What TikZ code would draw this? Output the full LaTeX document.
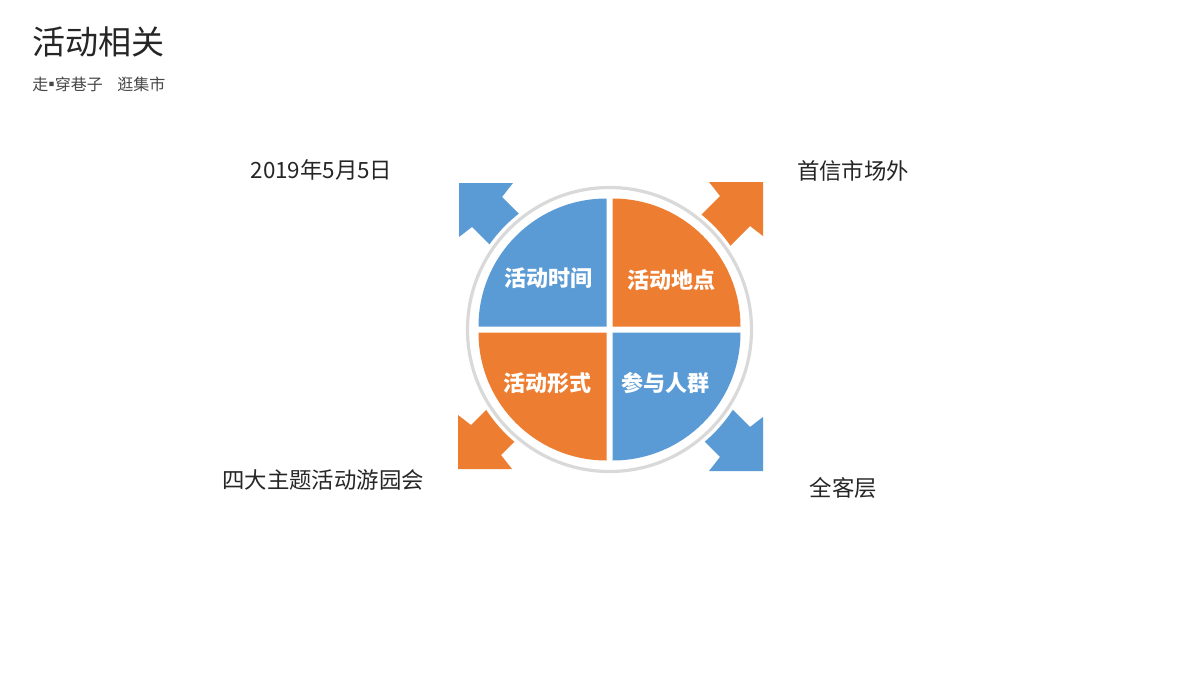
\documentclass[tikz,border=0pt]{standalone}
\usepackage{fontspec}
\setmainfont{Noto Sans CJK SC}
\definecolor{qblue}{HTML}{5B9BD5}
\definecolor{qorange}{HTML}{ED7D31}
\definecolor{ringgray}{HTML}{D9D9D9}
\definecolor{txt}{HTML}{262626}
\tikzset{
  bigarrow/.style={fill=#1, draw=none},
  quad/.style={fill=#1, draw=none},
  qlabel/.style={text=white, font=\fontsize{16.5}{18}\selectfont\bfseries, inner sep=0pt},
  slabel/.style={text=txt, font=\fontsize{16.8}{19}\selectfont, inner sep=0pt},
}
\begin{document}
\begin{tikzpicture}[x=0.75pt,y=-0.75pt]
\useasboundingbox (0,0) rectangle (1200,675);
\fill[white] (0,0) rectangle (1200,675);
% title
\node[anchor=west, text=txt, font=\fontsize{24.8}{28}\selectfont, inner sep=0pt] (title) at (32,42) {活动相关};
\node[anchor=west, text=txt!85, font=\fontsize{12}{14}\selectfont, inner sep=0pt] (subtitle) at (32,84) {走\kern-3.5pt▪\kern-3.5pt穿巷子\hspace{0.9em}逛集市};
% corner arrows
\def\arrowshape{(0,0) -- (54,0) -- (43,14) -- (95,66) -- (65,96) -- (13,44) -- (0,54) -- cycle}
\begin{scope}[shift={(459,183)}]
  \fill[bigarrow=qblue] \arrowshape;
\end{scope}
\begin{scope}[shift={(763,182)}, xscale=-1]
  \fill[bigarrow=qorange] \arrowshape;
\end{scope}
\begin{scope}[shift={(458,469)}, yscale=-1]
  \fill[bigarrow=qorange] \arrowshape;
\end{scope}
\begin{scope}[shift={(763,471)}, xscale=-1, yscale=-1]
  \fill[bigarrow=qblue] \arrowshape;
\end{scope}
% circle
\coordinate (c) at (609.5,329.5);
\fill[white] (c) circle[radius=147];
\draw[ringgray, line width=2.4pt] (c) circle[radius=142];
% quadrants
\fill[quad=qblue] ([shift={(-3,-3)}]c) -- ++(-128,0) arc[start angle=180, end angle=270, radius=128] -- cycle;
\fill[quad=qorange] ([shift={(3,-3)}]c) -- ++(128,0) arc[start angle=0, end angle=-90, radius=128] -- cycle;
\fill[quad=qorange] ([shift={(-3,3)}]c) -- ++(-128,0) arc[start angle=180, end angle=90, radius=128] -- cycle;
\fill[quad=qblue] ([shift={(3,3)}]c) -- ++(128,0) arc[start angle=0, end angle=90, radius=128] -- cycle;
% quadrant labels
\node[qlabel] (q1) at (548,278) {活动时间};
\node[qlabel] (q2) at (671,280) {活动地点};
\node[qlabel] (q3) at (547,383) {活动形式};
\node[qlabel] (q4) at (665,383) {参与人群};
% outer labels
\node[slabel] (l1) at (321.5,170) {2019年5月5日};
\node[slabel] (l2) at (853,171) {首信市场外};
\node[slabel] (l3) at (323,479.5) {四大主题活动游园会};
\node[slabel] (l4) at (843.5,488) {全客层};
\end{tikzpicture}
\end{document}
